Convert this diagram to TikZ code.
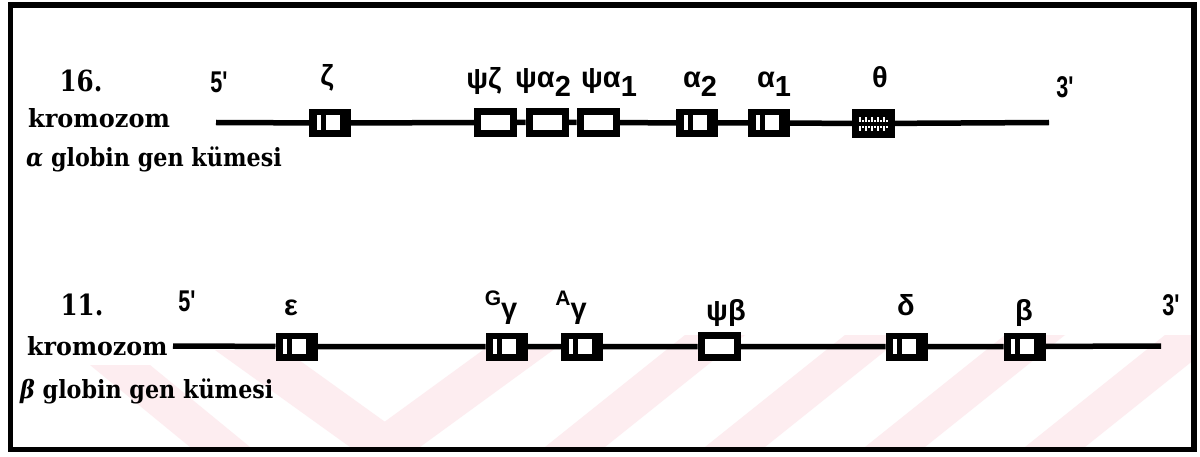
\documentclass[tikz,border=0pt]{standalone}
\usepackage{fontspec}
\setmainfont{DejaVu Serif}
\newfontfamily\genefont{Liberation Sans}
\newfontfamily\primefont[FakeStretch=0.72]{Liberation Sans}
\newfontfamily\numfont[FakeStretch=0.85]{DejaVu Serif}
\definecolor{wm}{RGB}{253,237,240}
\begin{document}
\begin{tikzpicture}[x=1pt,y=-1pt,
  serif/.style={font=\fontsize{25}{30}\selectfont\bfseries, inner sep=0pt},
  numlab/.style={font=\numfont\fontsize{29}{32}\selectfont\bfseries, inner sep=0pt, anchor=base},
  glabel/.style={font=\genefont\fontsize{29}{34}\selectfont\bfseries, inner sep=0pt, anchor=base},
  plabel/.style={font=\primefont\fontsize{30}{34}\selectfont\bfseries, inner sep=0pt, anchor=base},
  chrom/.style={line width=5.5pt},
  frame/.style={line width=5.5pt},
  gene/.style={rectangle, fill=black, minimum width=42pt, minimum height=28pt, inner sep=0pt, outer sep=0pt,
    path picture={
      \fill[white] ([shift={(7.5pt,7pt)}]path picture bounding box.south west) rectangle +(4pt,14.5pt);
      \fill[white] ([shift={(16.5pt,7pt)}]path picture bounding box.south west) rectangle +(14pt,14.5pt);
    }},
  pseudo/.style={rectangle, draw=black, fill=white, line width=7pt, minimum width=36pt, minimum height=22pt, inner sep=0pt},
  thetabox/.style={rectangle, fill=black, minimum width=43pt, minimum height=29pt, inner sep=0pt, outer sep=0pt,
    path picture={
      \foreach \xx in {7,13,19,25,31}{
        \fill[white] ([shift={(\xx pt,16pt)}]path picture bounding box.south west) rectangle +(1.8pt,5pt);
        \fill[white] ([shift={(\xx pt+3.2pt,16pt)}]path picture bounding box.south west) rectangle +(1.8pt,1.8pt);
        \fill[white] ([shift={(\xx pt,7pt)}]path picture bounding box.south west) rectangle +(1.8pt,5pt);
        \fill[white] ([shift={(\xx pt+3.2pt,10pt)}]path picture bounding box.south west) rectangle +(1.8pt,1.8pt);
      }
    }},
]
\useasboundingbox (0,0) rectangle (1200,457);
\fill[white] (0,0) rectangle (1200,457);
% watermark
\begin{scope}
\clip (13,335) rectangle (1191,447);
\fill[wm] (90,365) -- (150,365) -- (250,447) -- (190,447) -- cycle;
\fill[wm] (215,350) -- (285,350) -- (420,447) -- (350,447) -- cycle;
\fill[wm] (350,447) -- (420,447) -- (560,345) -- (490,345) -- cycle;
\fill[wm] (545,447) -- (605,447) -- (745,335) -- (685,335) -- cycle;
\fill[wm] (705,447) -- (765,447) -- (905,335) -- (845,335) -- cycle;
\fill[wm] (865,447) -- (925,447) -- (1065,335) -- (1005,335) -- cycle;
\fill[wm] (1025,447) -- (1085,447) -- (1225,335) -- (1165,335) -- cycle;
\end{scope}
% frame
\draw[frame] (10.5,5) rectangle (1194,449.5);

% ---- row 1: alpha globin cluster (chromosome 16)
\coordinate (a5) at (216,122.5);
\coordinate (a3) at (1049,122.5);
\node[gene] (zeta) at (330,123) {};
\node[pseudo] (pzeta) at (495.5,122.5) {};
\node[pseudo] (palpha2) at (547,122.5) {};
\node[pseudo] (palpha1) at (598,122.5) {};
\node[gene] (alpha2) at (697,123) {};
\node[gene] (alpha1) at (769,123) {};
\node[thetabox] (theta) at (873.5,123.5) {};
\draw[chrom] (a5) -- (zeta) -- (pzeta) -- (palpha2) -- (palpha1) -- (alpha2) -- (alpha1) -- (theta) -- (a3);

\node[numlab] (n16) at (81,92) {16.};
\node[serif, anchor=base west] (kr1) at (28,128) {\scalebox{0.96}[1]{kromozom}};
\node[serif, anchor=base west] (alab) at (26,167) {\scalebox{0.89}[1]{\textit{α} globin gen kümesi}};
\node[plabel] (a5l) at (219,93) {5'};
\node[glabel] (lzeta) at (327,86) {ζ};
\node[glabel] (lpzeta) at (484,89) {ψζ};
\node[glabel] (lpa2) at (543,88) {ψα\raisebox{-9pt}{2}};
\node[glabel] (lpa1) at (609,88) {ψα\raisebox{-9pt}{1}};
\node[glabel] (la2) at (700,88) {α\raisebox{-9pt}{2}};
\node[glabel] (la1) at (774,88) {α\raisebox{-9pt}{1}};
\node[glabel] (ltheta) at (880,88) {θ};
\node[plabel] (a3l) at (1065,98) {3'};

% ---- row 2: beta globin cluster (chromosome 11)
\coordinate (b5) at (173,346);
\coordinate (b3) at (1161,346);
\node[gene] (eps) at (296.5,346.5) {};
\node[gene] (Gg) at (506.5,346.5) {};
\node[gene] (Ag) at (582,346.5) {};
\node[pseudo] (pbeta) at (719,346.5) {};
\node[gene] (delta) at (906.5,346.5) {};
\node[gene] (beta) at (1024.5,346.5) {};
\draw[chrom] (b5) -- (eps) -- (Gg) -- (Ag) -- (pbeta) -- (delta) -- (beta) -- (b3);

\node[numlab] (n11) at (82,315) {11.};
\node[serif, anchor=base west] (kr2) at (27,355) {\scalebox{0.95}[1]{kromozom}};
\node[serif, anchor=base west] (blab) at (20,398) {\scalebox{0.89}[1]{\textit{β} globin gen kümesi}};
\node[plabel] (b5l) at (187,312) {5'};
\node[glabel] (leps) at (291,315) {ε};
\node[glabel] (lGg) at (501,318) {\raisebox{13pt}{\fontsize{21}{22}\selectfont G}γ};
\node[glabel] (lAg) at (571,318) {\raisebox{13pt}{\fontsize{21}{22}\selectfont A}γ};
\node[glabel] (lpbeta) at (726,320) {ψβ};
\node[glabel] (ldelta) at (906,315) {δ};
\node[glabel] (lbeta) at (1024,320) {β};
\node[plabel] (b3l) at (1171,315) {3'};
\end{tikzpicture}
\end{document}
